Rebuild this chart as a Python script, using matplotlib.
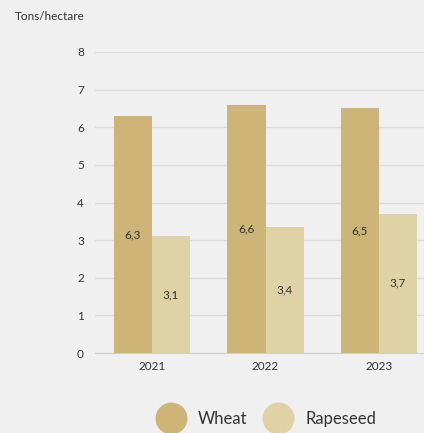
import numpy as np
import matplotlib.pyplot as plt
from matplotlib.lines import Line2D

# 数据
years = ['2021', '2022', '2023']
wheat = [6.3, 6.6, 6.5]
rapeseed = [3.1, 3.35, 3.7]
wheat_labels = ['6,3', '6,6', '6,5']
rapeseed_labels = ['3,1', '3,4', '3,7']

bg = '#eff0ef'
c_wheat = '#cdb577'
c_rape = '#dfd2a4'
txt = '#333333'

plt.rcParams['font.family'] = ['Lato', 'DejaVu Sans']

fig = plt.figure(figsize=(4.24, 4.33), dpi=100, facecolor=bg)
ax = fig.add_axes([95 / 424, 1 - 353 / 433, 1 - 95 / 424, (353 - 52) / 433])
ax.set_facecolor(bg)

x = np.arange(len(years))
w = 0.335
b1 = ax.bar(x - w / 2, wheat, w, color=c_wheat, zorder=3)
b2 = ax.bar(x + w / 2, rapeseed, w, color=c_rape, zorder=3)

# 柱内标签
for rect, lab in zip(b1, wheat_labels):
    ax.text(rect.get_x() + rect.get_width() / 2, rect.get_height() / 2, lab,
            ha='center', va='center', fontsize=8.5, color=txt, zorder=4)
for rect, lab in zip(b2, rapeseed_labels):
    ax.text(rect.get_x() + rect.get_width() / 2, rect.get_height() / 2, lab,
            ha='center', va='center', fontsize=8.5, color=txt, zorder=4)

ax.set_ylim(0, 8)
ax.set_xlim(-0.502, 2.396)
ax.set_yticks(range(0, 9))
ax.set_xticks(x)
ax.set_xticklabels(years)
ax.grid(axis='y', color='#dcdcdc', linewidth=1, zorder=0)
ax.tick_params(length=0, labelsize=8.5, labelcolor=txt)
ax.tick_params(axis='y', pad=8)
ax.tick_params(axis='x', pad=6)
for s in ['top', 'right', 'left']:
    ax.spines[s].set_visible(False)
ax.spines['bottom'].set_color('#d0d0d0')
ax.spines['bottom'].set_zorder(5)

fig.text(15 / 424, 1 - 16 / 433, 'Tons/hectare', fontsize=8.5, color=txt,
         ha='left', va='center')

handles = [Line2D([], [], marker='o', linestyle='', markersize=22, color=c_wheat),
           Line2D([], [], marker='o', linestyle='', markersize=22, color=c_rape)]
fig.legend(handles, ['Wheat', 'Rapeseed'], loc='center',
           bbox_to_anchor=(265 / 424, 1 - 419 / 433), ncol=2, frameon=False,
           fontsize=12, handletextpad=0.6, columnspacing=0.9, labelcolor=txt)

fig.savefig('out.png', dpi=100, facecolor=bg)
